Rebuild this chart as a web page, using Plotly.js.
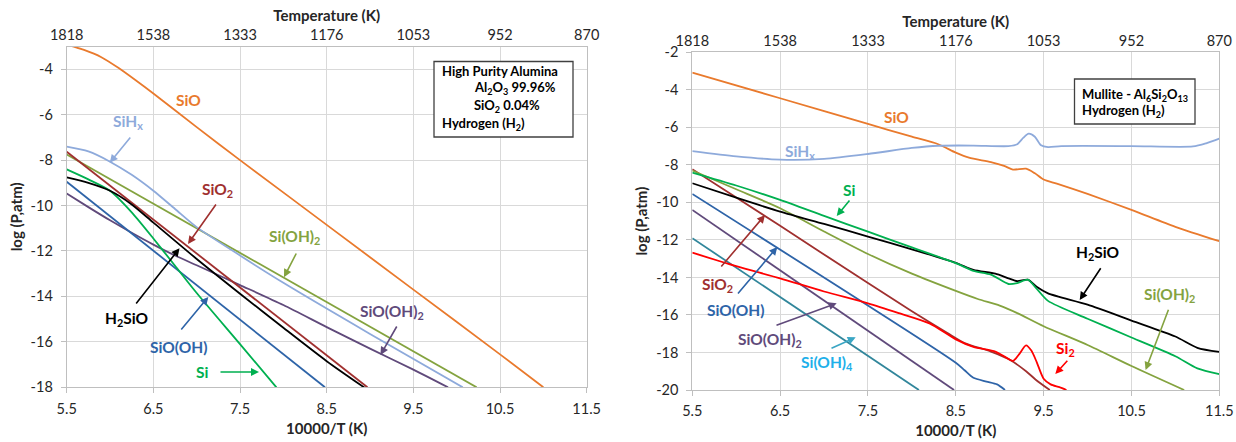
<!DOCTYPE html>
<html><head><meta charset="utf-8">
<script src="https://cdn.plot.ly/plotly-3.0.1.min.js"></script>
<style>html,body{margin:0;padding:0;background:#fff}#chart{width:1236px;height:442px}</style>
</head><body><div id="chart"></div>
<script>
// ---------- tick data ----------
const xTicks = [5.5, 6.5, 7.5, 8.5, 9.5, 10.5, 11.5];
const xTickText = ['5.5', '6.5', '7.5', '8.5', '9.5', '10.5', '11.5'];
const tempTickText = ['1818', '1538', '1333', '1176', '1053', '952', '870'];
const leftYTicks = [-4, -6, -8, -10, -12, -14, -16, -18];
const rightYTicks = [-2, -4, -6, -8, -10, -12, -14, -16, -18, -20];

// ---------- left panel: High Purity Alumina ----------
const L_SiO_x = [5.5, 5.7, 5.9, 6.1, 6.3, 6.5, 7.0, 7.5, 8.5, 9.5, 10.5, 11.0];
const L_SiO_y = [-2.92, -3.15, -3.47, -3.95, -4.5, -5.07, -6.55, -8.0, -10.85, -13.7, -16.55, -18.0];
const L_SiHx_x = [5.5, 5.75, 6.0, 6.25, 6.5, 6.75, 7.0, 7.5, 8.0, 9.0, 10.07];
const L_SiHx_y = [-7.41, -7.62, -8.07, -8.65, -9.35, -10.15, -10.95, -12.2, -13.4, -15.65, -18.0];
const L_SiOH2_x = [5.5, 10.23];
const L_SiOH2_y = [-7.75, -18.0];
const L_SiO2_x = [5.5, 8.97];
const L_SiO2_y = [-7.63, -18.0];
const L_H2SiO_x = [5.5, 5.75, 6.0, 6.25, 6.5, 7.0, 7.5, 8.0, 8.5, 8.95];
const L_H2SiO_y = [-8.76, -9.0, -9.35, -9.95, -10.75, -12.35, -13.88, -15.38, -16.85, -18.05];
const L_Si_x = [5.5, 5.75, 6.0, 6.25, 6.5, 6.75, 7.0, 7.5, 7.92];
const L_Si_y = [-8.41, -8.85, -9.35, -10.3, -11.45, -12.65, -13.85, -16.1, -18.0];
const L_SiOOH_x = [5.5, 8.48];
const L_SiOOH_y = [-8.95, -18.0];
const L_SiOOH2_x = [5.5, 5.75, 6.0, 6.25, 6.5, 6.75, 7.0, 7.5, 8.0, 8.5, 9.0, 9.5, 9.9];
const L_SiOOH2_y = [-9.47, -10.07, -10.65, -11.2, -11.72, -12.2, -12.63, -13.5, -14.38, -15.35, -16.3, -17.22, -18.0];

// ---------- right panel: Mullite ----------
const R_SiO_x = [5.5, 6.5, 7.5, 8.0, 8.3, 8.5, 8.65, 8.9, 9.05, 9.15, 9.3, 9.4, 9.5, 9.65, 10.0, 10.5, 11.0, 11.5];
const R_SiO_y = [-3.08, -4.45, -5.82, -6.5, -6.9, -7.35, -7.62, -7.85, -8.05, -8.25, -8.2, -8.45, -8.78, -9.0, -9.55, -10.4, -11.3, -12.07];
const R_SiHx_x = [5.5, 6.0, 6.5, 7.0, 7.5, 8.0, 8.3, 8.7, 9.1, 9.2, 9.27, 9.33, 9.4, 9.47, 9.55, 9.7, 10.5, 11.2, 11.35, 11.5];
const R_SiHx_y = [-7.27, -7.55, -7.72, -7.68, -7.42, -7.1, -6.98, -6.97, -7.0, -6.9, -6.55, -6.34, -6.5, -6.95, -7.05, -7.0, -7.0, -7.02, -6.85, -6.6];
const R_Si_x = [5.5, 6.0, 6.5, 7.0, 7.5, 8.0, 8.5, 8.7, 8.9, 9.1, 9.2, 9.32, 9.42, 9.55, 10.0, 10.5, 11.0, 11.25, 11.5];
const R_Si_y = [-8.41, -9.1, -9.87, -10.72, -11.56, -12.4, -13.24, -13.65, -13.85, -14.35, -14.3, -14.12, -14.6, -15.25, -16.2, -17.2, -18.2, -18.85, -19.15];
const R_H2SiO_x = [5.5, 6.0, 6.5, 7.0, 7.5, 8.0, 8.5, 8.7, 8.95, 9.1, 9.2, 9.32, 9.42, 9.55, 10.0, 10.5, 11.0, 11.25, 11.5];
const R_H2SiO_y = [-8.98, -9.75, -10.49, -11.15, -11.82, -12.5, -13.22, -13.6, -13.8, -14.05, -14.2, -14.12, -14.5, -14.85, -15.45, -16.3, -17.15, -17.75, -17.97];
const R_SiOH2_x = [5.5, 6.0, 6.5, 7.0, 7.5, 8.0, 8.5, 8.75, 9.0, 9.2, 9.5, 10.0, 10.5, 11.1];
const R_SiOH2_y = [-8.3, -9.3, -10.31, -11.55, -12.75, -13.8, -14.72, -15.15, -15.5, -15.9, -16.6, -17.6, -18.72, -20.0];
const R_SiO2_x = [5.5, 6.5, 7.5, 8.0, 8.4, 8.6, 8.9, 9.1, 9.3, 9.41, 9.57];
const R_SiO2_y = [-8.23, -11.25, -14.3, -15.8, -16.95, -17.5, -17.95, -18.35, -19.0, -19.45, -20.0];
const R_Si2_x = [5.5, 6.0, 6.5, 7.0, 7.5, 7.85, 8.2, 8.5, 8.7, 8.95, 9.05, 9.15, 9.22, 9.3, 9.36, 9.42, 9.5, 9.58, 9.68, 9.76];
const R_Si2_y = [-12.68, -13.4, -14.05, -14.75, -15.38, -15.9, -16.45, -17.3, -17.7, -17.95, -18.2, -18.45, -18.1, -17.62, -17.9, -18.5, -19.4, -19.7, -19.85, -20.0];
const R_SiOOH_x = [5.5, 8.5, 8.6, 8.7, 8.85, 8.97, 9.06];
const R_SiOOH_y = [-9.55, -18.55, -18.95, -19.35, -19.55, -19.7, -20.0];
const R_SiOOH2_x = [5.5, 8.48];
const R_SiOOH2_y = [-10.4, -20.0];
const R_SiOH4_x = [5.5, 8.08];
const R_SiOH4_y = [-11.91, -20.0];

// ---------- styles ----------
const W = 1236, H = 442;
const FONT = 'Lato, "Open Sans", sans-serif';
const gridC = '#D9D9D9', lineC = '#BFBFBF', txtC = '#262626';
const C = {
  sio: '#E97A2D', sihx: '#8EAADB', sioh2: '#84A33F', sio2: '#A0302F', h2sio: '#000000',
  si: '#00B050', siooh: '#2E64A8', siooh2: '#604A7B', si2: '#FF0000', sioh4: '#31869B',
  sioh4Label: '#1EB0EA', sioh4Arrow: '#3AA6C4'
};

function tr(x, y, color, xa, ya, spline) {
  return {x: x, y: y, xaxis: xa, yaxis: ya, type: 'scatter', mode: 'lines', hoverinfo: 'skip', showlegend: false,
    line: {color: color, width: 1.8, shape: spline ? 'spline' : 'linear', smoothing: 0.7}};
}
const data = [
  tr(L_SiO_x, L_SiO_y, C.sio, 'x', 'y', true),
  tr(L_SiOH2_x, L_SiOH2_y, C.sioh2, 'x', 'y', false),
  tr(L_SiHx_x, L_SiHx_y, C.sihx, 'x', 'y', true),
  tr(L_SiOOH2_x, L_SiOOH2_y, C.siooh2, 'x', 'y', true),
  tr(L_SiOOH_x, L_SiOOH_y, C.siooh, 'x', 'y', false),
  tr(L_Si_x, L_Si_y, C.si, 'x', 'y', true),
  tr(L_SiO2_x, L_SiO2_y, C.sio2, 'x', 'y', false),
  tr(L_H2SiO_x, L_H2SiO_y, C.h2sio, 'x', 'y', true),

  tr(R_SiO_x, R_SiO_y, C.sio, 'x2', 'y2', true),
  tr(R_SiHx_x, R_SiHx_y, C.sihx, 'x2', 'y2', true),
  tr(R_SiOH4_x, R_SiOH4_y, C.sioh4, 'x2', 'y2', false),
  tr(R_SiOOH2_x, R_SiOOH2_y, C.siooh2, 'x2', 'y2', false),
  tr(R_SiOOH_x, R_SiOOH_y, C.siooh, 'x2', 'y2', true),
  tr(R_SiO2_x, R_SiO2_y, C.sio2, 'x2', 'y2', true),
  tr(R_Si2_x, R_Si2_y, C.si2, 'x2', 'y2', true),
  tr(R_SiOH2_x, R_SiOH2_y, C.sioh2, 'x2', 'y2', true),
  tr(R_H2SiO_x, R_H2SiO_y, C.h2sio, 'x2', 'y2', true),
  tr(R_Si_x, R_Si_y, C.si, 'x2', 'y2', true),
  // carriers for the top temperature axes
  {x: xTicks, y: xTicks.map(() => null), xaxis: 'x3', yaxis: 'y', mode: 'lines', hoverinfo: 'skip', showlegend: false},
  {x: xTicks, y: xTicks.map(() => null), xaxis: 'x4', yaxis: 'y2', mode: 'lines', hoverinfo: 'skip', showlegend: false}
];

const tickFont = {family: FONT, size: 14.5, color: txtC};
const titleFont = {family: FONT, size: 15, color: txtC, weight: 'bold'};

function xBottom(domain, anchor) {
  return {domain: domain, anchor: anchor, range: [5.5, 11.5], tickmode: 'array', tickvals: xTicks, ticktext: xTickText,
    showgrid: true, gridcolor: gridC, gridwidth: 1, zeroline: false, showline: true, linecolor: lineC, linewidth: 1,
    ticks: 'outside', ticklen: 5, tickcolor: lineC, tickfont: tickFont, ticklabelstandoff: 3, automargin: false, fixedrange: true,
    title: {text: '<b>10000/T (K)</b>', font: titleFont, standoff: 7}};
}
function xTop(overlay, anchor) {
  return {overlaying: overlay, anchor: anchor, side: 'top', range: [5.5, 11.5], tickmode: 'array', tickvals: xTicks,
    ticktext: tempTickText, showgrid: false, zeroline: false, showline: true, linecolor: lineC, linewidth: 1,
    ticks: '', tickfont: tickFont, automargin: false, fixedrange: true,
    title: {text: '<b>Temperature (K)</b>', font: titleFont, standoff: 0}};
}
function yAxis(domain, anchor, range, ticks) {
  return {domain: domain, anchor: anchor, range: range, tickmode: 'array', tickvals: ticks, ticktext: ticks.map(String),
    showgrid: true, gridcolor: gridC, gridwidth: 1, zeroline: false, showline: true, mirror: true, linecolor: lineC,
    linewidth: 1, ticks: 'outside', ticklen: 5, tickcolor: lineC, tickfont: tickFont, ticklabelstandoff: 5,
    automargin: false, fixedrange: true,
    title: {text: '<b>log (P,atm)</b>', font: titleFont, standoff: 4}};
}

// ---------- annotations (pixel positions converted to paper) ----------
const ann = [];
function lab(px, py, text, color, size) {
  ann.push({xref: 'paper', yref: 'paper', x: px / W, y: 1 - py / H, text: '<b>' + text + '</b>', showarrow: false,
    xanchor: 'center', yanchor: 'middle', font: {family: FONT, size: size || 15.5, color: color}});
}
function arr(tx, ty, hx, hy, color) {
  ann.push({xref: 'paper', yref: 'paper', x: hx / W, y: 1 - hy / H, ax: tx - hx, ay: ty - hy, axref: 'pixel', ayref: 'pixel',
    text: '', showarrow: true, arrowhead: 2, arrowsize: 1, arrowwidth: 1.6, arrowcolor: color, standoff: 0, startstandoff: 0});
}
function boxText(px, py, text) {
  ann.push({xref: 'paper', yref: 'paper', x: px / W, y: 1 - py / H, text: '<b>' + text + '</b>', showarrow: false,
    xanchor: 'left', yanchor: 'middle', font: {family: FONT, size: 13, color: '#000'}});
}

// left labels
lab(188, 100, 'SiO', C.sio);
lab(128, 122, 'SiH<sub>x</sub>', C.sihx); arr(131.5, 136, 109.8, 162.7, C.sihx);
lab(218, 190, 'SiO<sub>2</sub>', C.sio2); arr(217, 203, 188, 244, C.sio2);
lab(294, 237, 'Si(OH)<sub>2</sub>', C.sioh2); arr(297, 252, 284, 277.3, C.sioh2);
lab(126, 319, 'H<sub>2</sub>SiO', C.h2sio); arr(135, 305, 179.5, 248.3, C.h2sio);
lab(178, 347, 'SiO(OH)', C.siooh); arr(180, 331, 208.3, 297, C.siooh);
lab(392, 312, 'SiO(OH)<sub>2</sub>', C.siooh2); arr(397.6, 325, 380.5, 355, C.siooh2);
lab(202, 372, 'Si', C.si); arr(219, 372, 259, 372, C.si);
boxText(440, 71, 'High Purity Alumina');
boxText(472, 88.5, 'Al<sub>2</sub>O<sub>3</sub> 99.96%');
boxText(472, 106, 'SiO<sub>2</sub> 0.04%');
boxText(440, 124, 'Hydrogen (H<sub>2</sub>)');

// right labels
lab(896, 117, 'SiO', C.sio);
lab(800, 152, 'SiH<sub>x</sub>', C.sihx);
lab(849, 190, 'Si', C.si); arr(850.7, 199, 836.7, 216, C.si);
lab(717, 285, 'SiO<sub>2</sub>', C.sio2); arr(720, 268, 765, 215, C.sio2);
lab(735, 310, 'SiO(OH)', C.siooh); arr(736.7, 295, 777.3, 247, C.siooh);
lab(770, 340, 'SiO(OH)<sub>2</sub>', C.siooh2); arr(775, 325.7, 836.7, 303.3, C.siooh2);
lab(827, 363, 'Si(OH)<sub>4</sub>', C.sioh4Label); arr(830, 349, 855.7, 337.3, C.sioh4Arrow);
lab(1097, 253, 'H<sub>2</sub>SiO', C.h2sio); arr(1101.7, 266.7, 1079.7, 300, C.h2sio);
lab(1169, 295, 'Si(OH)<sub>2</sub>', C.sioh2); arr(1169, 308.3, 1145.6, 370, C.sioh2);
lab(1065, 349, 'Si<sub>2</sub>', C.si2); arr(1068.7, 359.3, 1055.3, 374, C.si2);
boxText(1080, 95, 'Mullite - Al<sub>6</sub>Si<sub>2</sub>O<sub>13</sub>');
boxText(1080, 110.5, 'Hydrogen (H<sub>2</sub>)');

const shapes = [
  {type: 'rect', xref: 'paper', yref: 'paper', x0: 434 / W, x1: 573 / W, y0: 1 - 137 / H, y1: 1 - 61.5 / H,
    line: {color: '#404040', width: 1.3}, fillcolor: '#ffffff', layer: 'above'},
  {type: 'rect', xref: 'paper', yref: 'paper', x0: 1074.5 / W, x1: 1195 / W, y0: 1 - 124 / H, y1: 1 - 79 / H,
    line: {color: '#404040', width: 1.3}, fillcolor: '#ffffff', layer: 'above'}
];

const layout = {
  width: W, height: H, margin: {l: 0, r: 0, t: 0, b: 0}, paper_bgcolor: '#fff', plot_bgcolor: '#fff',
  showlegend: false, font: {family: FONT, color: txtC},
  xaxis: xBottom([66.7 / W, 586.7 / W], 'y'),
  yaxis: yAxis([1 - 387.3 / H, 1 - 46.5 / H], 'x', [-18, -3], leftYTicks),
  xaxis2: xBottom([692.3 / W, 1219.3 / W], 'y2'),
  yaxis2: yAxis([1 - 390 / H, 1 - 52.3 / H], 'x2', [-20, -2], rightYTicks),
  xaxis3: xTop('x', 'y'),
  xaxis4: xTop('x2', 'y2'),
  annotations: ann,
  shapes: shapes
};

Plotly.newPlot('chart', data, layout, {staticPlot: true, displayModeBar: false});
</script>
</body></html>
